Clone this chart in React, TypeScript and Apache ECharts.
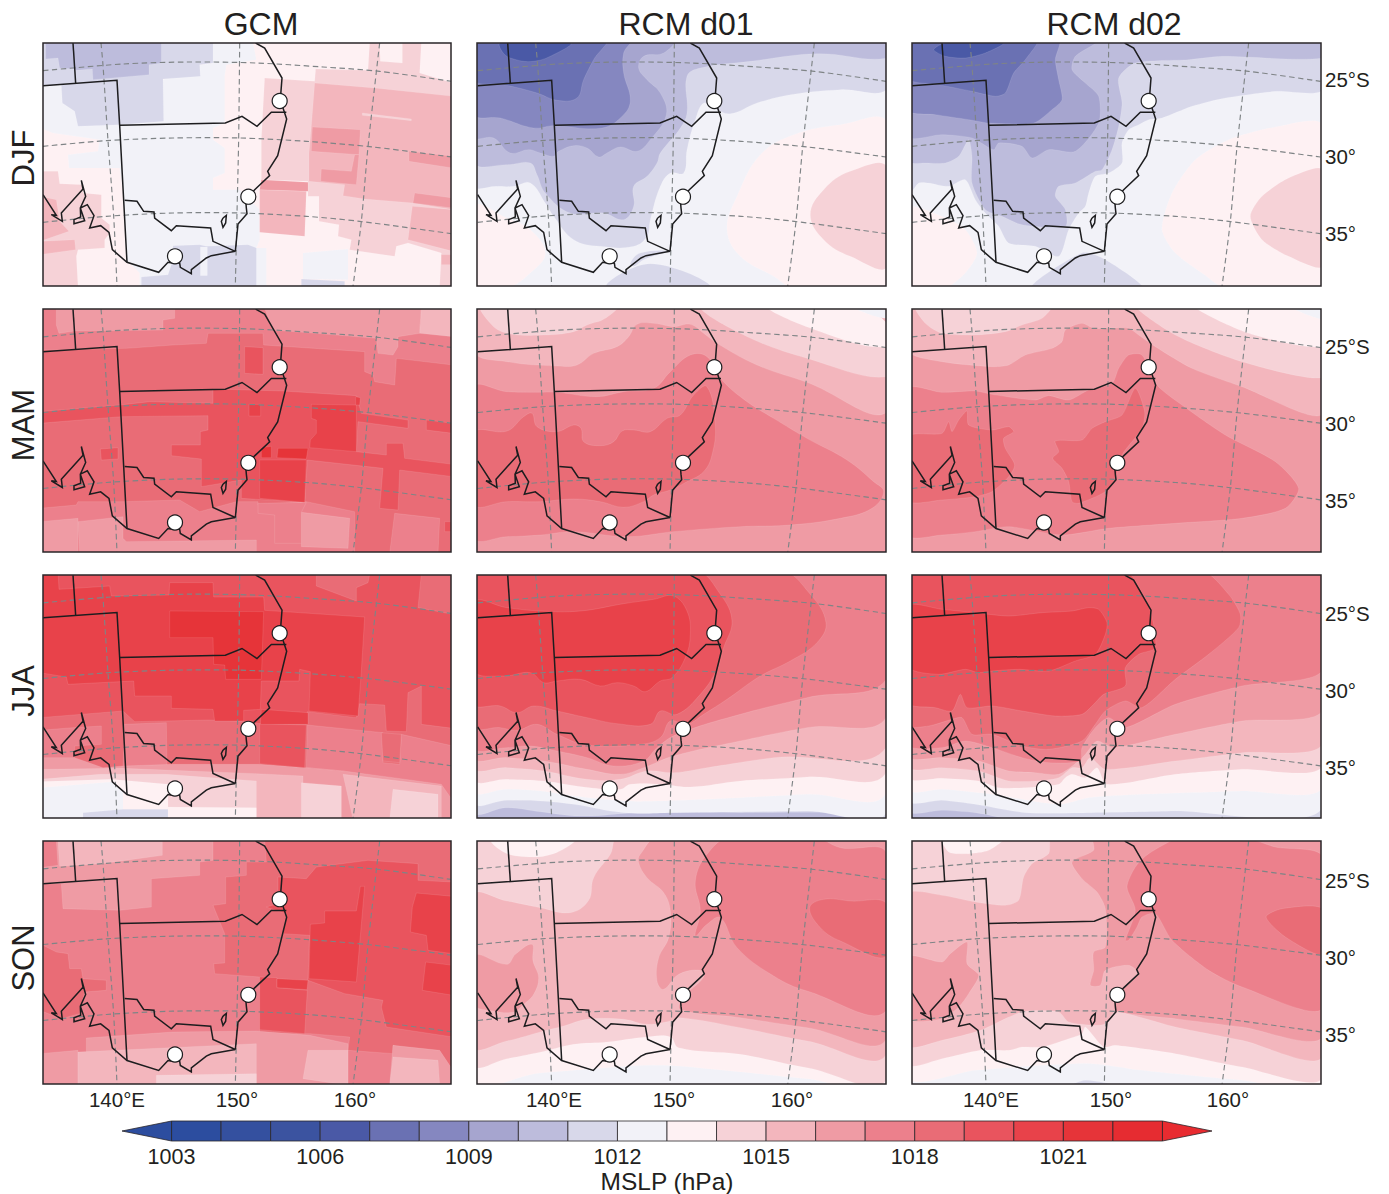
import React, { useEffect, useRef } from "react";
import * as echarts from "echarts";

type Band = [number, number[]];

const seasons = ["DJF", "MAM", "JJA", "SON"];
const models = ["GCM", "RCM d01", "RCM d02"];
const levels = [1003, 1004, 1005, 1006, 1007, 1008, 1009, 1010, 1011, 1012, 1013, 1014, 1015, 1016, 1017, 1018, 1019, 1020, 1021, 1022];
const levelColors = ["#2c4d9f", "#34509f", "#3b53a0", "#4a59a6", "#6a71b3", "#8587c0", "#a6a5cf", "#bdbcdc", "#d8d8ea", "#f2f2f8", "#fef1f3", "#f6d2d7", "#f3b6bd", "#ef9ba4", "#ec808c", "#e96c76", "#e9545e", "#e8424a", "#e63439", "#e62c31"];
const colorbarTicks = [1003, 1006, 1009, 1012, 1015, 1018, 1021];
const latTicks = ["25°S", "30°", "35°"];
const lonTicks = ["140°E", "150°", "160°"];

// Map-plane coordinates of the projected domain (x east, y south).
const whole = [0, 0, 1300, 0, 1300, 800, 0, 800];

const parallels = [
  [10, 93, 250, 73, 450, 67, 650, 70, 850, 82, 1020, 95, 1235, 125],
  [10, 320, 200, 303, 400, 295, 600, 295, 800, 305, 1000, 322, 1235, 352],
  [10, 548, 200, 530, 400, 520, 600, 520, 800, 530, 960, 545, 1235, 582],
];
const meridians = [
  [184, 10, 190, 77, 205, 303, 222, 530, 232, 740],
  [600, 10, 597, 295, 592, 520, 587, 740],
  [1020, 10, 985, 322, 965, 545, 940, 740],
];
const borders = [
  [100, 10, 108, 130],
  [10, 138, 232, 122, 240, 257, 262, 668],
  [240, 257, 557, 250, 607, 230, 652, 260, 695, 218, 740, 218],
  [648, 10, 675, 25, 727, 115, 722, 180, 730, 205, 741, 238, 714, 348, 684, 395, 690, 408, 645, 450, 618, 480, 620, 505, 622, 522, 595, 553, 587, 635],
  [587, 635, 520, 605, 513, 565, 410, 558, 395, 573, 345, 535, 343, 517, 312, 515, 292, 485, 255, 482],
  [587, 635, 515, 648, 500, 655, 455, 690, 455, 702, 422, 683, 420, 670, 398, 670, 385, 668, 357, 698, 262, 668, 218, 630, 208, 578, 183, 558, 150, 565, 163, 528, 143, 495, 122, 505, 123, 532, 103, 540, 103, 552, 135, 543, 122, 505, 138, 470, 125, 422, 130, 448, 65, 520, 68, 545, 35, 525, 50, 527, 10, 465],
  [550, 535, 560, 527, 558, 550, 550, 563, 545, 545, 550, 535],
];
const airports = [[720, 184], [626, 471], [406, 650]];

const gcmDjf: Band[] = [
  [1013, whole],
  [1012, [10, 140, 65, 135, 240, 125, 370, 120, 480, 75, 520, 70, 520, 10, 640, 10, 650, 60, 560, 75, 555, 110, 555, 250, 520, 265, 520, 300, 555, 325, 555, 400, 520, 415, 520, 450, 600, 450, 660, 510, 660, 600, 650, 625, 680, 625, 680, 740, 300, 740, 300, 700, 260, 660, 250, 450, 240, 385, 88, 385, 85, 345, 175, 335, 180, 300, 40, 280, 10, 268]],
  [1012, [790, 640, 925, 628, 925, 720, 790, 718]],
  [1011, [10, 10, 520, 10, 520, 70, 480, 75, 482, 110, 370, 118, 372, 245, 240, 255, 115, 260, 105, 215, 68, 190, 65, 135, 10, 140]],
  [1010, [18, 10, 365, 10, 365, 70, 328, 75, 328, 105, 160, 120, 158, 88, 110, 92, 105, 88, 60, 85, 55, 55, 18, 58]],
  [1011, [400, 618, 480, 615, 500, 620, 625, 615, 650, 625, 650, 740, 305, 740, 305, 712, 385, 705, 400, 660]],
  [1012, [482, 622, 503, 622, 503, 708, 482, 708]],
  [1011, [785, 718, 915, 725, 915, 740, 785, 740]],
  [1014, [675, 115, 825, 125, 828, 88, 985, 92, 990, 10, 1020, 10, 1022, 65, 1088, 70, 1088, 10, 1145, 10, 1140, 100, 1240, 130, 1240, 740, 1200, 740, 1205, 640, 1105, 610, 1070, 620, 1065, 650, 930, 630, 935, 600, 895, 590, 898, 555, 838, 545, 838, 470, 805, 470, 805, 425, 665, 420, 665, 300]],
  [1015, [825, 130, 1005, 145, 1240, 170, 1240, 510, 1120, 490, 975, 478, 910, 468, 915, 435, 808, 425, 808, 340, 815, 260]],
  [1015, [1118, 500, 1240, 510, 1240, 635, 1105, 600]],
  [1015, [660, 450, 800, 455, 795, 590, 660, 578]],
  [1015, [1205, 645, 1240, 645, 1240, 675, 1205, 675]],
  [1016, [818, 262, 962, 270, 958, 345, 815, 335]],
  [1016, [845, 388, 935, 395, 945, 345, 958, 345, 950, 435, 843, 425]],
  [1016, [1108, 335, 1240, 350, 1240, 385, 1108, 365]],
  [1016, [1125, 460, 1240, 475, 1240, 505, 1120, 490]],
  [1016, [665, 420, 805, 428, 805, 455, 660, 450]],
  [1014, [968, 220, 1115, 238, 1115, 243, 968, 227]],
  [1014, [0, 395, 55, 395, 60, 432, 130, 435, 130, 460, 185, 465, 185, 535, 210, 555, 210, 580, 195, 600, 195, 625, 115, 630, 110, 650, 115, 740, 0, 740]],
  [1015, [0, 470, 50, 480, 60, 545, 88, 575, 0, 605]],
  [1015, [0, 605, 105, 600, 108, 630, 0, 645]],
];

const gcmMam: Band[] = [
  [1017, whole],
  [1016, [50, 10, 405, 10, 405, 40, 370, 45, 370, 75, 105, 78, 58, 85, 50, 60]],
  [1016, [675, 10, 1145, 10, 1140, 85, 1075, 95, 1075, 125, 1060, 150, 1015, 145, 1010, 100, 830, 85, 700, 75]],
  [1015, [1145, 10, 1240, 10, 1240, 95, 1140, 85]],
  [1018, [0, 135, 260, 130, 400, 120, 500, 115, 505, 85, 670, 85, 672, 120, 975, 140, 975, 200, 1000, 210, 1005, 230, 1065, 240, 1070, 160, 1240, 180, 1240, 745, 1195, 745, 1200, 640, 1065, 625, 1050, 745, 945, 745, 945, 620, 800, 590, 655, 600, 655, 590, 590, 590, 480, 620, 420, 585, 250, 590, 115, 590, 110, 600, 0, 610]],
  [1016, [115, 650, 250, 635, 250, 700, 260, 710, 650, 705, 650, 745, 120, 745]],
  [1016, [785, 622, 930, 640, 925, 730, 785, 725]],
  [1017, [655, 595, 800, 592, 785, 622, 785, 715, 705, 715, 705, 630, 655, 625]],
  [1016, [0, 650, 115, 640, 115, 745, 0, 745]],
  [1019, [0, 320, 240, 300, 330, 290, 520, 295, 520, 252, 730, 258, 950, 272, 965, 325, 1105, 345, 1105, 370, 955, 350, 950, 440, 1040, 450, 1040, 415, 1090, 415, 1095, 460, 1240, 478, 1240, 515, 1080, 495, 1075, 615, 1020, 610, 1030, 490, 803, 465, 795, 592, 605, 580, 605, 525, 485, 545, 485, 462, 395, 452, 395, 420, 482, 420, 482, 380, 505, 375, 505, 332, 245, 335, 0, 355]],
  [1019, [1160, 345, 1240, 355, 1240, 385, 1160, 375]],
  [1019, [615, 125, 670, 128, 670, 208, 615, 205]],
  [1019, [182, 432, 235, 428, 235, 462, 185, 465]],
  [1019, [1215, 650, 1240, 650, 1240, 680, 1215, 680]],
  [1020, [815, 298, 950, 300, 950, 440, 810, 428, 812, 405, 830, 385, 830, 345, 815, 340]],
  [1020, [660, 465, 800, 465, 795, 592, 660, 580]],
  [1020, [628, 298, 663, 298, 663, 333, 628, 333]],
  [1020, [948, 275, 962, 278, 960, 300, 948, 300]],
  [1021, [715, 430, 805, 430, 800, 462, 712, 458]],
  [1021, [665, 428, 695, 424, 695, 458, 665, 458]],
];

const gcmJja: Band[] = [
  [1019, whole],
  [1018, [830, 10, 990, 10, 985, 35, 950, 50, 950, 90, 830, 45]],
  [1018, [1145, 10, 1240, 10, 1240, 130, 1135, 110]],
  [1018, [0, 440, 250, 420, 285, 452, 505, 447, 610, 450, 660, 458, 800, 460, 803, 422, 950, 440, 960, 398, 1035, 402, 1040, 480, 1100, 482, 1105, 365, 1145, 345, 1145, 460, 1240, 472, 1240, 745, 0, 745]],
  [1017, [803, 462, 1030, 485, 1030, 575, 1080, 580, 1085, 490, 1240, 525, 1240, 690, 1060, 625, 910, 600, 800, 590]],
  [1017, [255, 460, 380, 455, 382, 585, 250, 590]],
  [1017, [0, 478, 100, 470, 185, 465, 185, 520, 105, 525, 105, 565, 0, 565]],
  [1016, [0, 560, 105, 560, 190, 590, 250, 585, 400, 580, 655, 580, 800, 590, 910, 600, 1060, 620, 1205, 640, 1240, 690, 1240, 745, 0, 745]],
  [1015, [0, 595, 250, 592, 650, 608, 790, 615, 790, 745, 0, 745]],
  [1015, [910, 610, 1205, 645, 1205, 745, 940, 745]],
  [1014, [0, 625, 180, 610, 380, 610, 650, 630, 650, 745, 0, 745]],
  [1014, [785, 635, 905, 645, 905, 745, 785, 745]],
  [1014, [1060, 655, 1195, 670, 1195, 745, 1050, 745]],
  [1013, [0, 632, 215, 625, 385, 640, 385, 708, 650, 710, 650, 745, 0, 745]],
  [1012, [0, 650, 222, 632, 250, 665, 250, 745, 0, 745]],
  [1011, [130, 725, 250, 715, 385, 715, 385, 745, 130, 745]],
  [1019, [660, 458, 800, 462, 795, 590, 660, 578]],
  [1018, [1025, 485, 1085, 490, 1080, 575, 1030, 570]],
  [1020, [0, 0, 55, 0, 58, 55, 210, 45, 215, 75, 388, 72, 390, 35, 520, 35, 522, 78, 672, 78, 675, 118, 975, 138, 965, 300, 955, 435, 808, 420, 812, 302, 780, 295, 778, 330, 665, 330, 662, 415, 612, 418, 612, 450, 525, 450, 520, 415, 395, 412, 395, 375, 285, 375, 282, 330, 85, 340, 80, 318, 0, 305]],
  [1020, [665, 415, 805, 425, 805, 460, 662, 460]],
  [1021, [390, 120, 672, 122, 665, 325, 558, 325, 555, 282, 522, 280, 520, 200, 390, 200]],
];

const gcmSon: Band[] = [
  [1017, whole],
  [1016, [50, 10, 520, 10, 520, 70, 480, 75, 480, 115, 335, 125, 335, 210, 240, 220, 70, 215, 65, 140, 0, 140, 0, 92, 55, 85]],
  [1015, [55, 10, 368, 10, 368, 55, 185, 80, 60, 88]],
  [1018, [675, 10, 1240, 10, 1240, 700, 1195, 670, 1060, 625, 1060, 650, 925, 640, 930, 600, 810, 590, 660, 590, 660, 420, 525, 410, 522, 380, 555, 378, 555, 290, 520, 205, 558, 200, 558, 120, 620, 115, 620, 75, 680, 75]],
  [1018, [0, 320, 50, 345, 85, 350, 90, 395, 125, 395, 130, 425, 200, 430, 200, 460, 135, 465, 120, 530, 65, 545, 0, 520]],
  [1019, [715, 120, 800, 125, 830, 90, 985, 70, 1135, 80, 1135, 130, 1240, 135, 1240, 600, 1040, 570, 1025, 510, 1030, 490, 915, 470, 805, 430, 810, 295, 730, 290, 740, 230, 680, 210, 715, 200]],
  [1019, [660, 420, 712, 422, 712, 452, 803, 460, 795, 590, 660, 578]],
  [1020, [855, 222, 950, 222, 962, 148, 975, 148, 950, 435, 808, 425, 812, 262, 855, 258]],
  [1020, [1130, 168, 1240, 178, 1240, 350, 1165, 340, 1160, 295, 1112, 285, 1118, 210]],
  [1020, [1158, 375, 1240, 385, 1240, 475, 1148, 460]],
  [1020, [712, 425, 805, 430, 802, 458, 712, 452]],
  [1016, [140, 603, 400, 585, 650, 582, 810, 595, 925, 620, 925, 745, 140, 745]],
  [1016, [1060, 625, 1200, 640, 1240, 700, 1240, 745, 1050, 745]],
  [1016, [0, 650, 115, 640, 115, 745, 0, 745]],
  [1015, [115, 645, 650, 620, 650, 745, 115, 745]],
  [1015, [805, 640, 925, 640, 925, 745, 790, 725]],
  [1015, [1060, 660, 1195, 670, 1200, 745, 1050, 745]],
  [1014, [350, 715, 650, 710, 650, 745, 350, 745]],
];

const d01Djf: Band[] = [
  [1012, whole],
  [1013, [1240, 250, 1100, 255, 960, 285, 860, 345, 790, 470, 760, 570, 800, 650, 900, 710, 960, 745, 1240, 745]],
  [1013, [0, 500, 100, 535, 170, 570, 215, 640, 170, 700, 100, 745, 0, 745]],
  [1014, [1240, 383, 1130, 395, 1050, 450, 1010, 525, 1050, 600, 1130, 650, 1240, 680]],
  [1011, [0, 0, 1240, 0, 1240, 148, 1100, 150, 950, 165, 850, 190, 770, 222, 720, 205, 690, 190, 665, 240, 640, 330, 630, 400, 590, 400, 560, 440, 530, 540, 520, 590, 480, 620, 380, 620, 300, 600, 240, 530, 215, 490, 170, 430, 120, 440, 70, 440, 0, 435]],
  [1011, [400, 745, 530, 672, 710, 745]],
  [1011, [470, 670, 500, 640, 580, 635, 510, 660, 480, 680]],
  [1010, [0, 365, 100, 375, 170, 370, 190, 405, 215, 460, 290, 520, 390, 520, 450, 540, 480, 500, 480, 440, 520, 410, 550, 370, 560, 340, 620, 265, 640, 220, 640, 110, 680, 85, 830, 65, 1030, 42, 1240, 55, 1240, 0, 0, 0]],
  [1009, [0, 0, 600, 0, 570, 40, 510, 50, 495, 85, 520, 120, 560, 160, 578, 225, 530, 300, 490, 335, 440, 322, 400, 340, 375, 352, 340, 325, 300, 318, 255, 335, 240, 350, 200, 340, 165, 330, 110, 340, 60, 295, 0, 290]],
  [1008, [0, 0, 470, 0, 450, 40, 450, 100, 470, 180, 450, 225, 385, 265, 240, 258, 180, 265, 80, 235, 0, 222]],
  [1007, [0, 0, 395, 0, 360, 60, 330, 120, 310, 175, 250, 182, 190, 160, 90, 135, 0, 120]],
  [1006, [80, 10, 290, 10, 250, 40, 180, 65, 110, 55, 85, 35]],
];

const d02Djf: Band[] = [
  [1012, whole],
  [1013, [1240, 255, 1100, 262, 960, 300, 860, 360, 790, 460, 760, 570, 800, 640, 880, 700, 950, 745, 1240, 745]],
  [1013, [0, 505, 100, 530, 170, 570, 205, 640, 170, 700, 110, 745, 0, 745]],
  [1014, [1240, 390, 1140, 415, 1060, 470, 1025, 530, 1060, 600, 1140, 650, 1240, 680]],
  [1011, [0, 0, 1240, 0, 1240, 152, 1100, 155, 950, 175, 850, 200, 760, 235, 720, 240, 690, 255, 660, 270, 640, 310, 640, 370, 600, 400, 560, 410, 540, 460, 530, 500, 510, 520, 480, 570, 450, 650, 380, 620, 300, 610, 270, 560, 230, 520, 200, 480, 170, 420, 120, 440, 60, 430, 30, 430, 0, 465]],
  [1011, [370, 745, 520, 640, 590, 660, 700, 745]],
  [1010, [0, 365, 50, 370, 110, 370, 150, 350, 180, 300, 190, 350, 190, 430, 230, 510, 280, 530, 340, 555, 470, 560, 470, 510, 440, 470, 450, 440, 500, 430, 560, 395, 580, 390, 610, 330, 630, 260, 640, 190, 630, 115, 680, 70, 840, 60, 940, 50, 1240, 55, 1240, 0, 0, 0]],
  [1009, [0, 0, 570, 0, 500, 50, 490, 90, 530, 130, 570, 170, 570, 250, 500, 335, 420, 330, 370, 355, 340, 320, 270, 310, 255, 330, 190, 295, 100, 285, 0, 290]],
  [1008, [0, 0, 450, 0, 440, 60, 450, 120, 460, 180, 430, 210, 375, 250, 240, 250, 180, 240, 80, 225, 0, 212]],
  [1007, [0, 0, 385, 0, 350, 60, 315, 100, 290, 160, 260, 170, 190, 155, 90, 135, 0, 118]],
  [1006, [75, 30, 110, 10, 285, 10, 230, 40, 170, 55, 110, 50]],
];

const d01Mam: Band[] = [
  [1016, whole],
  [1015, [0, 0, 1240, 0, 1240, 320, 1000, 232, 850, 180, 730, 115, 690, 85, 650, 58, 600, 65, 540, 55, 490, 58, 465, 95, 430, 125, 360, 145, 310, 180, 250, 183, 100, 170, 0, 140]],
  [1014, [25, 0, 430, 0, 395, 40, 340, 60, 300, 80, 210, 90, 100, 85, 50, 55]],
  [1014, [680, 0, 880, 0, 1040, 80, 1240, 125, 1240, 215, 1000, 160, 800, 85]],
  [1013, [880, 0, 1130, 0, 1240, 55, 1240, 125, 1040, 80]],
  [1012, [1130, 0, 1240, 0, 1240, 40]],
  [1017, [0, 250, 100, 260, 180, 262, 250, 262, 370, 275, 450, 260, 540, 250, 590, 200, 650, 150, 700, 155, 745, 225, 820, 290, 900, 340, 1000, 400, 1120, 465, 1200, 530, 1230, 560, 1195, 610, 1100, 640, 950, 660, 800, 665, 600, 680, 460, 695, 300, 680, 200, 690, 100, 695, 0, 695]],
  [1018, [0, 385, 100, 378, 150, 335, 175, 325, 190, 365, 250, 380, 300, 360, 322, 370, 330, 410, 380, 422, 420, 410, 445, 378, 480, 375, 530, 380, 580, 340, 620, 330, 660, 270, 700, 245, 725, 360, 715, 450, 690, 500, 640, 530, 590, 555, 540, 570, 510, 590, 450, 607, 380, 590, 300, 582, 200, 590, 100, 590, 0, 597]],
];

const d02Mam: Band[] = [
  [1016, whole],
  [1015, [0, 0, 1240, 0, 1240, 328, 1000, 245, 850, 190, 740, 125, 690, 90, 660, 70, 600, 70, 555, 70, 520, 55, 470, 75, 460, 110, 430, 130, 350, 150, 300, 180, 250, 185, 100, 170, 0, 140]],
  [1014, [20, 0, 430, 0, 400, 40, 340, 60, 290, 80, 200, 90, 100, 85, 50, 55]],
  [1014, [680, 0, 850, 0, 1020, 85, 1240, 125, 1240, 218, 1000, 170, 800, 90]],
  [1013, [855, 0, 1130, 0, 1240, 45, 1240, 125, 1020, 85]],
  [1012, [1135, 0, 1240, 0, 1240, 42]],
  [1017, [0, 252, 100, 262, 200, 258, 250, 268, 380, 285, 420, 272, 480, 285, 540, 255, 610, 235, 630, 190, 660, 150, 700, 150, 745, 240, 820, 300, 950, 390, 1100, 470, 1170, 550, 1130, 610, 1000, 640, 800, 655, 600, 670, 460, 690, 300, 665, 200, 680, 100, 690, 0, 690]],
  [1018, [0, 395, 100, 385, 120, 350, 130, 380, 150, 345, 175, 318, 180, 360, 250, 375, 300, 365, 315, 380, 285, 400, 290, 430, 318, 480, 300, 515, 250, 560, 200, 575, 100, 585, 0, 587]],
  [1018, [440, 408, 520, 405, 550, 370, 590, 350, 640, 330, 680, 250, 708, 320, 700, 370, 640, 450, 620, 520, 590, 560, 510, 595, 490, 590, 480, 530, 460, 490, 432, 460, 450, 440]],
];

const d01Jja: Band[] = [
  [1010, whole],
  [1011, [0, 718, 100, 710, 200, 722, 320, 735, 500, 725, 800, 725, 1100, 725, 1240, 735, 1240, 0, 0, 0]],
  [1012, [0, 690, 100, 688, 200, 690, 300, 700, 450, 725, 600, 725, 1000, 720, 1240, 718, 1240, 0, 0, 0]],
  [1013, [0, 655, 100, 655, 200, 660, 300, 675, 460, 690, 550, 690, 800, 680, 1000, 670, 1240, 660, 1240, 0, 0, 0]],
  [1014, [0, 620, 100, 625, 210, 630, 330, 648, 440, 655, 470, 640, 560, 640, 650, 648, 800, 630, 1000, 618, 1240, 598, 1240, 0, 0, 0]],
  [1015, [0, 585, 100, 590, 210, 600, 340, 625, 440, 625, 520, 600, 600, 605, 700, 590, 900, 560, 1240, 525, 1240, 0, 0, 0]],
  [1016, [0, 555, 100, 560, 210, 570, 340, 595, 440, 610, 510, 590, 600, 555, 800, 510, 1000, 470, 1240, 435, 1240, 0, 0, 0]],
  [1017, [0, 525, 100, 530, 170, 525, 250, 540, 340, 560, 420, 585, 510, 570, 550, 530, 610, 490, 800, 430, 1000, 380, 1240, 322, 1240, 0, 0, 0]],
  [1018, [0, 0, 920, 0, 1010, 70, 1057, 155, 1030, 215, 950, 270, 860, 315, 760, 385, 690, 430, 640, 460, 590, 450, 560, 500, 500, 520, 340, 522, 250, 490, 190, 460, 130, 478, 80, 470, 0, 463]],
  [1019, [0, 395, 80, 405, 130, 425, 180, 405, 250, 420, 340, 440, 430, 458, 530, 460, 560, 420, 610, 430, 680, 370, 730, 295, 750, 230, 775, 150, 740, 70, 665, 0, 0, 0]],
  [1020, [0, 297, 90, 315, 170, 305, 210, 335, 250, 330, 320, 325, 380, 345, 430, 335, 480, 345, 515, 362, 560, 330, 595, 320, 635, 260, 650, 190, 640, 120, 600, 75, 540, 85, 450, 98, 320, 120, 200, 120, 100, 110, 0, 95]],
];

const d02Jja: Band[] = [
  [1010, whole],
  [1011, [0, 718, 100, 718, 200, 725, 320, 745, 1240, 745, 1240, 0, 0, 0]],
  [1012, [0, 688, 100, 688, 200, 700, 350, 725, 550, 725, 800, 720, 1240, 712, 1240, 0, 0, 0]],
  [1013, [0, 655, 100, 655, 250, 670, 450, 700, 540, 680, 700, 670, 1000, 660, 1240, 650, 1240, 0, 0, 0]],
  [1014, [0, 618, 100, 622, 210, 630, 270, 650, 350, 650, 450, 640, 470, 620, 490, 610, 530, 620, 565, 590, 595, 640, 800, 610, 1000, 595, 1240, 585, 1240, 0, 0, 0]],
  [1015, [0, 587, 100, 590, 210, 600, 300, 630, 380, 630, 450, 620, 490, 590, 520, 590, 545, 560, 590, 595, 800, 570, 1000, 545, 1240, 520, 1240, 0, 0, 0]],
  [1016, [0, 555, 100, 560, 210, 570, 300, 600, 380, 605, 450, 610, 510, 570, 530, 550, 565, 510, 615, 530, 800, 490, 1000, 450, 1240, 420, 1240, 0, 0, 0]],
  [1017, [0, 520, 100, 530, 170, 510, 250, 530, 340, 560, 420, 575, 515, 570, 520, 530, 560, 470, 600, 440, 650, 470, 800, 400, 1000, 345, 1240, 300, 1240, 0, 0, 0]],
  [1018, [0, 462, 60, 465, 130, 445, 160, 440, 190, 490, 250, 490, 340, 525, 420, 535, 520, 510, 560, 460, 590, 420, 650, 390, 700, 410, 800, 325, 900, 250, 990, 170, 995, 130, 960, 70, 880, 0, 0, 0]],
  [1019, [0, 395, 80, 410, 130, 420, 155, 370, 175, 410, 250, 405, 340, 420, 440, 435, 520, 430, 555, 400, 585, 370, 650, 345, 650, 290, 690, 250, 740, 230, 725, 120, 680, 30, 650, 0, 0, 0]],
  [1020, [0, 288, 90, 310, 170, 295, 210, 305, 250, 300, 330, 295, 420, 300, 500, 270, 560, 250, 590, 190, 595, 155, 570, 115, 540, 110, 490, 120, 400, 125, 300, 135, 200, 125, 100, 115, 0, 105]],
];

const d01Son: Band[] = [
  [1012, whole],
  [1013, [0, 725, 200, 708, 400, 692, 550, 685, 700, 695, 1000, 725, 1240, 745, 1240, 0, 0, 0]],
  [1014, [0, 680, 100, 665, 215, 642, 300, 622, 400, 615, 520, 600, 590, 600, 615, 632, 800, 652, 1000, 692, 1240, 722, 1240, 0, 0, 0]],
  [1013, [50, 0, 305, 0, 240, 50, 130, 57, 70, 32]],
  [1015, [0, 177, 100, 192, 200, 212, 290, 227, 345, 190, 360, 122, 410, 52, 435, 0, 1240, 0, 1240, 647, 1000, 612, 800, 572, 620, 542, 590, 552, 520, 562, 450, 547, 340, 547, 270, 567, 210, 582, 100, 612, 0, 627]],
  [1016, [555, 0, 500, 52, 495, 77, 520, 122, 570, 167, 590, 222, 585, 302, 555, 362, 550, 432, 570, 457, 615, 412, 680, 400, 690, 420, 630, 480, 620, 517, 800, 542, 1000, 572, 1240, 602, 1240, 0]],
  [1016, [0, 357, 100, 382, 125, 352, 175, 322, 178, 372, 195, 422, 180, 472, 150, 502, 120, 525, 60, 522, 0, 500]],
  [1017, [770, 0, 700, 52, 665, 132, 680, 222, 665, 297, 700, 262, 740, 242, 790, 332, 900, 417, 1000, 462, 1240, 517, 1240, 52, 1100, 32, 1020, 0]],
  [1018, [1008, 212, 1050, 187, 1130, 192, 1240, 202, 1240, 357, 1100, 312, 1040, 272]],
];

const d02Son: Band[] = [
  [1012, whole],
  [1011, [490, 745, 530, 730, 620, 745]],
  [1013, [0, 722, 200, 700, 400, 685, 550, 680, 700, 700, 1000, 730, 1240, 745, 1240, 0, 0, 0]],
  [1014, [0, 680, 100, 665, 215, 640, 300, 640, 340, 630, 400, 630, 480, 605, 520, 590, 530, 570, 585, 630, 620, 625, 800, 650, 1000, 690, 1240, 722, 1240, 0, 0, 0]],
  [1013, [100, 0, 290, 0, 240, 40, 180, 50, 120, 45]],
  [1015, [0, 625, 100, 610, 215, 580, 340, 525, 450, 525, 480, 555, 560, 565, 590, 560, 620, 525, 800, 570, 1000, 610, 1240, 660, 1240, 0, 430, 0, 420, 50, 370, 80, 345, 120, 330, 190, 290, 205, 200, 195, 100, 175, 0, 172]],
  [1016, [555, 0, 555, 40, 490, 75, 520, 125, 565, 165, 590, 215, 590, 330, 555, 345, 555, 400, 545, 445, 575, 445, 590, 400, 660, 385, 690, 410, 630, 470, 620, 520, 800, 545, 1000, 570, 1240, 600, 1240, 0]],
  [1016, [0, 360, 100, 375, 125, 350, 175, 315, 175, 380, 210, 415, 180, 470, 150, 510, 100, 545, 0, 545]],
  [1017, [820, 0, 720, 50, 680, 90, 655, 150, 680, 220, 650, 310, 660, 310, 685, 270, 700, 240, 740, 230, 790, 310, 900, 400, 1000, 450, 1240, 515, 1240, 58, 1100, 30, 1000, 0]],
  [1018, [1072, 240, 1120, 215, 1240, 215, 1240, 352, 1130, 300]],
];

const panelBands: Band[][][] = [
  [gcmDjf, d01Djf, d02Djf],
  [gcmMam, d01Mam, d02Mam],
  [gcmJja, d01Jja, d02Jja],
  [gcmSon, d01Son, d02Son],
];
const panelSmooth = [0, 0.4, 0.25];

const rowTop = [43, 309, 575, 841];
const rowLabelY = [158, 425, 691, 958];
const colLeft = [43, 477, 912];
const colWidth = [408, 409, 409];
const colTitleX = [261, 686, 1114];
const PANEL_H = 243;
const FONT = "'Liberation Sans', Arial, sans-serif";
const INK = "#231f20";

const colorOf = (lvl: number) => levelColors[levels.indexOf(lvl)];
const toPoints = (flat: number[], dx: number, dy: number, api: any) => {
  const out: number[][] = [];
  for (let i = 0; i < flat.length; i += 2) out.push(api.coord([flat[i] + dx, flat[i + 1] + dy]));
  return out;
};

function buildOption() {
  const grid: any[] = [];
  const xAxis: any[] = [];
  const yAxis: any[] = [];
  const series: any[] = [];
  const graphic: any[] = [];

  seasons.forEach((_s, r) => {
    models.forEach((_m, c) => {
      const i = grid.length;
      const yMin = r === 0 ? 10 : 12;
      const xMax = c === 0 ? 1234 : 1237;
      const dy = r === 0 ? 0 : 2.5;
      const dx = c === 1 ? 2 : 0;
      grid.push({ left: colLeft[c], top: rowTop[r], width: colWidth[c], height: PANEL_H, show: false, outerBoundsMode: "none" });
      const lonAt = c === 0 ? [232, 592, 946] : c === 1 ? [241, 601, 955] : [247, 607, 958];
      xAxis.push({
        gridIndex: i, type: "value", min: 10, max: xMax, position: "bottom",
        axisLine: { show: false }, axisTick: { show: false }, splitLine: { show: false },
        axisLabel: r === 3
          ? { show: true, customValues: lonAt, margin: 5, color: INK, fontSize: 20.5, fontFamily: FONT, formatter: (v: number) => lonTicks[lonAt.indexOf(v)] ?? "" }
          : { show: false },
      });
      const latShift = r * 3 - 3;
      const latAt = [yMin + 111 + latShift, yMin + 342 + latShift, yMin + 573 + latShift];
      yAxis.push({
        gridIndex: i, type: "value", min: yMin, max: yMin + 729, inverse: true, position: "right",
        axisLine: { show: false }, axisTick: { show: false }, splitLine: { show: false },
        axisLabel: c === 2
          ? { show: true, customValues: latAt, margin: 4, color: INK, fontSize: 20.5, fontFamily: FONT, align: "left", formatter: (v: number) => latTicks[latAt.indexOf(v)] ?? "" }
          : { show: false },
      });

      const bands = panelBands[r][c];
      const smooth = panelSmooth[c];
      series.push({
        type: "custom", xAxisIndex: i, yAxisIndex: i, clip: true, silent: true, z: 1,
        data: bands.map((b, k) => [k, b[0]]),
        renderItem: (params: any, api: any) => {
          const b = bands[params.dataIndex];
          return {
            type: "polygon",
            shape: { points: toPoints(b[1], 0, 0, api), smooth },
            style: { fill: colorOf(b[0]), stroke: "rgba(255,255,255,0.18)", lineWidth: 0.6 },
          };
        },
      });
      const lines = [...parallels, ...meridians];
      series.push({
        type: "custom", xAxisIndex: i, yAxisIndex: i, clip: true, silent: true, z: 2,
        data: lines.map((_l, k) => [k, 0]),
        renderItem: (params: any, api: any) => ({
          type: "polyline",
          shape: { points: toPoints(lines[params.dataIndex], dx, dy, api), smooth: 0.3 },
          style: { fill: "none", stroke: "#7f8486", lineWidth: 1.15, lineDash: [5.5, 3.5] },
        }),
      });
      series.push({
        type: "custom", xAxisIndex: i, yAxisIndex: i, clip: true, silent: true, z: 3,
        data: borders.map((_l, k) => [k, 0]),
        renderItem: (params: any, api: any) => ({
          type: "polyline",
          shape: { points: toPoints(borders[params.dataIndex], dx, dy, api) },
          style: { fill: "none", stroke: "#1d1d1f", lineWidth: 1.5, lineJoin: "miter" },
        }),
      });
      series.push({
        type: "scatter", xAxisIndex: i, yAxisIndex: i, silent: true, z: 4,
        symbol: "circle", symbolSize: 15,
        itemStyle: { color: "#ffffff", borderColor: "#1d1d1f", borderWidth: 1.2, opacity: 1 },
        data: airports.map((p) => [p[0] + dx, p[1] + dy]),
      });
      series.push({
        type: "custom", xAxisIndex: i, yAxisIndex: i, clip: false, silent: true, z: 5,
        data: [[0, 0]],
        renderItem: (params: any) => ({
          type: "rect",
          shape: { x: params.coordSys.x, y: params.coordSys.y, width: params.coordSys.width, height: params.coordSys.height },
          style: { fill: "none", stroke: "#2a2629", lineWidth: 1.5 },
        }),
      });
    });
  });

  // colour bar
  const cb = grid.length;
  grid.push({ left: 122, top: 1121, width: 1090, height: 20, show: false, outerBoundsMode: "none" });
  xAxis.push({
    gridIndex: cb, type: "value", min: 1002, max: 1024, position: "bottom",
    axisLine: { show: false }, axisTick: { show: false }, splitLine: { show: false },
    axisLabel: { show: true, customValues: colorbarTicks, margin: 5, color: INK, fontSize: 21.5, fontFamily: FONT, formatter: (v: number) => String(v) },
    name: "MSLP (hPa)", nameLocation: "middle", nameGap: 28,
    nameTextStyle: { color: INK, fontSize: 24.5, fontFamily: FONT },
  });
  yAxis.push({ gridIndex: cb, type: "value", min: 0, max: 1, show: false });
  series.push({
    type: "custom", xAxisIndex: cb, yAxisIndex: cb, clip: false, silent: true, z: 2,
    data: levels.map((l) => [l, 0]),
    renderItem: (params: any, api: any) => {
      const l = levels[params.dataIndex];
      const p0 = api.coord([l, 1]);
      const p1 = api.coord([l + 1, 0]);
      return {
        type: "rect",
        shape: { x: p0[0], y: p0[1], width: p1[0] - p0[0], height: p1[1] - p0[1] },
        style: { fill: colorOf(l), stroke: "#2a2629", lineWidth: 0.8 },
      };
    },
  });
  const extendTips: [number, number, string][] = [[1003, 1002, levelColors[0]], [1023, 1024, "#e82b30"]];
  series.push({
    type: "custom", xAxisIndex: cb, yAxisIndex: cb, clip: false, silent: true, z: 2,
    data: extendTips.map((t) => [t[0], 0]),
    renderItem: (params: any, api: any) => {
      const t = extendTips[params.dataIndex];
      return {
        type: "polygon",
        shape: { points: [api.coord([t[0], 1]), api.coord([t[0], 0]), api.coord([t[1], 0.5])] },
        style: { fill: t[2], stroke: "#2a2629", lineWidth: 0.8 },
      };
    },
  });

  models.forEach((m, c) => {
    graphic.push({ type: "text", x: colTitleX[c], y: 24, style: { text: m, fill: INK, font: `32px ${FONT}`, textAlign: "center", textVerticalAlign: "middle" } });
  });
  seasons.forEach((s, r) => {
    graphic.push({ type: "text", x: 23, y: rowLabelY[r], rotation: Math.PI / 2, style: { text: s, fill: INK, font: `31px ${FONT}`, textAlign: "center", textVerticalAlign: "middle" } });
  });

  return { animation: false, backgroundColor: "#ffffff", grid, xAxis, yAxis, series, graphic };
}

export default function App() {
  const ref = useRef<HTMLDivElement | null>(null);
  useEffect(() => {
    if (!ref.current) return;
    const chart = echarts.init(ref.current, undefined, { renderer: "svg" });
    chart.setOption(buildOption() as any);
    return () => chart.dispose();
  }, []);
  return <div ref={ref} style={{ position: "absolute", left: 0, top: 0, width: 1389, height: 1194 }} />;
}
